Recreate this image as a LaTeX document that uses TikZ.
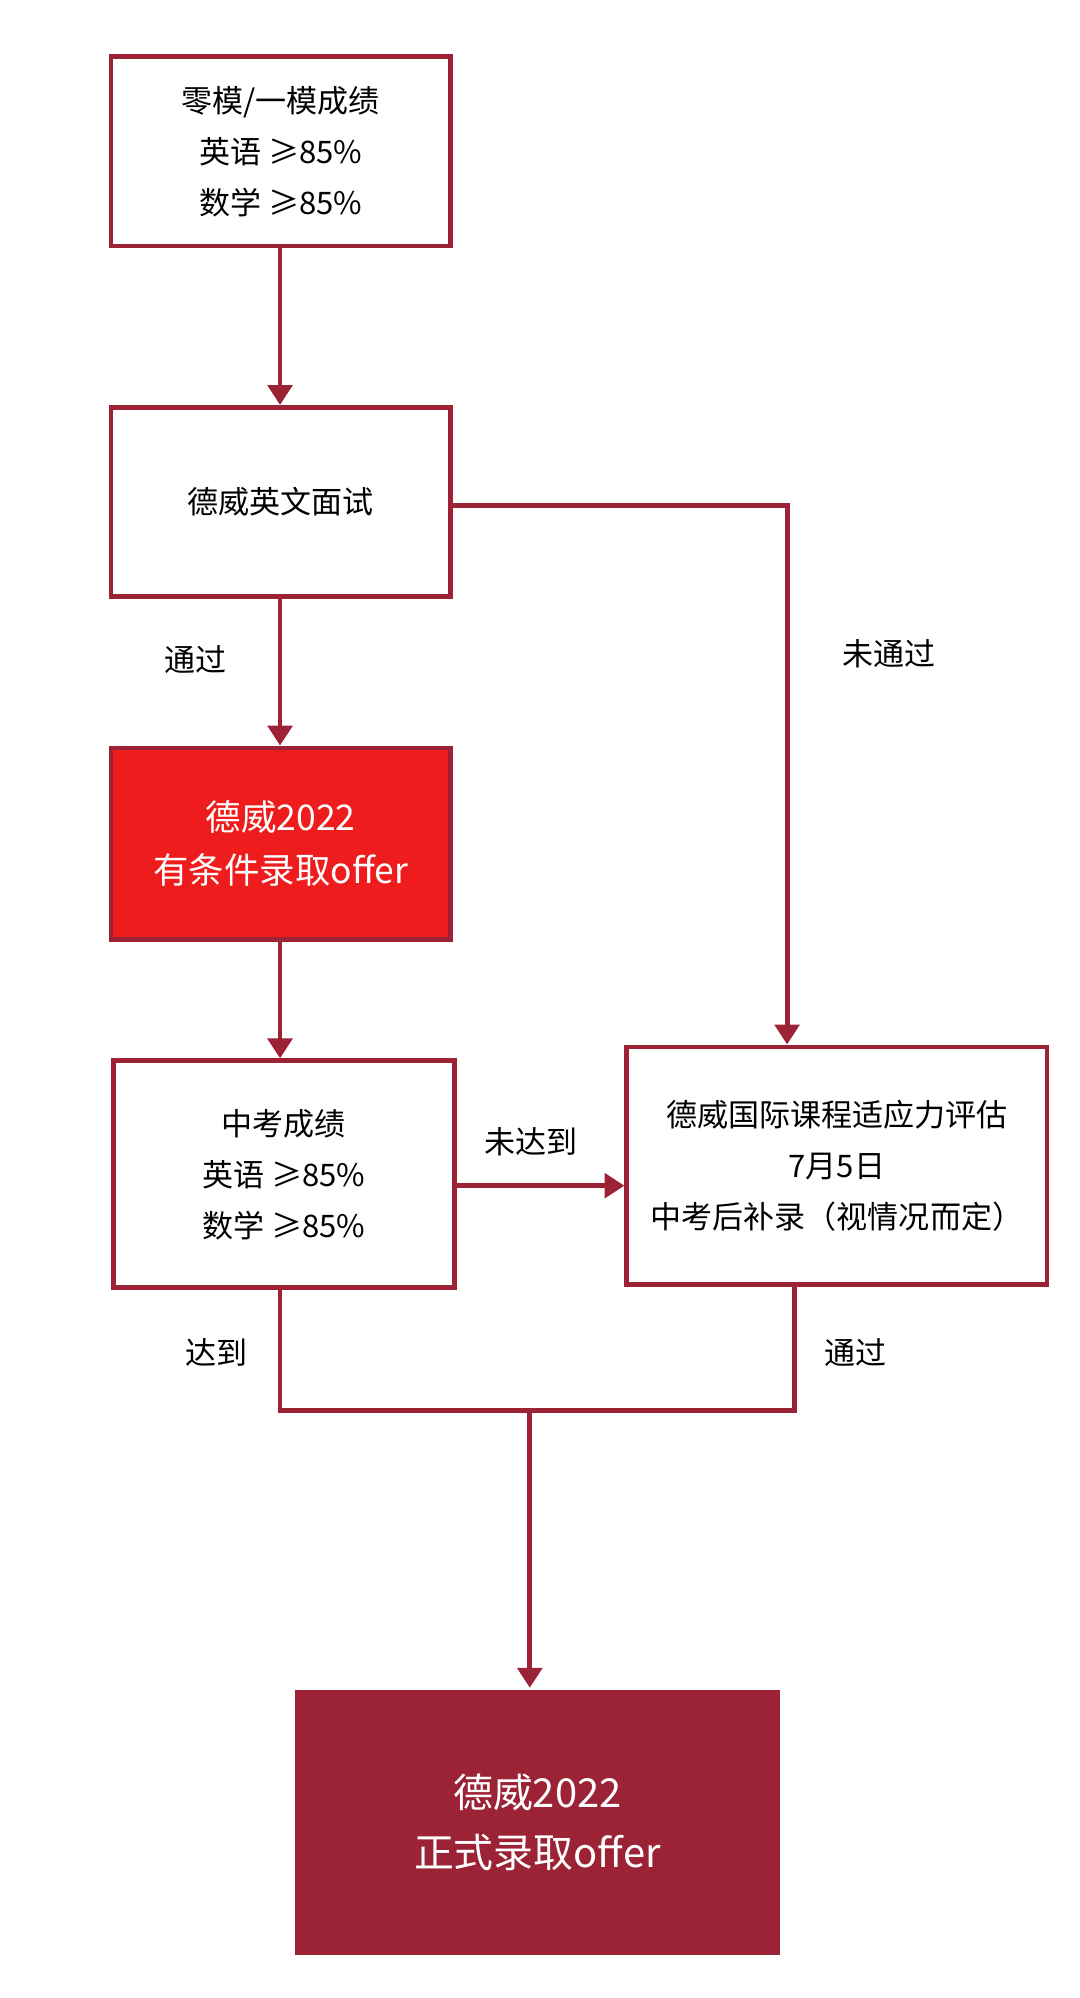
\documentclass[tikz,border=0pt]{standalone}
\usepackage{fontspec}
\setmainfont{Noto Sans CJK SC}
\usetikzlibrary{positioning, arrows.meta}
\definecolor{wine}{HTML}{9B2335}
\definecolor{offerred}{HTML}{EE1C1C}
\tikzset{
  stepbox/.style={draw=wine, line width=2.2pt, align=center, inner sep=0pt, font=\fontsize{14}{23}\selectfont},
  flow/.style={draw=wine, line width=2.2pt, -{Triangle[length=9pt,width=11pt]}},
  link/.style={draw=wine, line width=2.2pt},
  lbl/.style={font=\fontsize{14}{18}\selectfont}
}
\begin{document}
\begin{tikzpicture}[x=0.02cm, y=-0.02cm]
  \useasboundingbox (0,0) rectangle (856,1584);

  \node[stepbox, minimum width=269*0.02cm, minimum height=150*0.02cm] (score) at (222.5,120) {零模/一模成绩\\英语 ≥85\%\\数学 ≥85\%};
  \node[stepbox, minimum width=269*0.02cm, minimum height=150*0.02cm] (interview) at (222.5,398) {德威英文面试};
  \node[stepbox, fill=offerred, text=white, font=\fontsize{16}{24}\selectfont, minimum width=269*0.02cm, minimum height=152*0.02cm] (cond) at (222.5,669) {德威2022\\有条件录取offer};
  \node[stepbox, minimum width=270*0.02cm, minimum height=180*0.02cm] (exam) at (225,931) {中考成绩\\英语 ≥85\%\\数学 ≥85\%};
  \node[stepbox, minimum width=333*0.02cm, minimum height=188*0.02cm] (assess) at (663.5,924) {德威国际课程适应力评估\\7月5日\\中考后补录（视情况而定）};
  \node[stepbox, draw=none, fill=wine, text=white, font=\fontsize{18}{27}\selectfont, minimum width=384*0.02cm, minimum height=210*0.02cm] (final) at (426,1445) {德威2022\\正式录取offer};

  \coordinate (turn) at (624,401);
  \coordinate (joinl) at (222,1118);
  \coordinate (joinr) at (630,1118);
  \coordinate (joinm) at (420,1118);

  \draw[flow] (score.south -| 222,0) -- (interview.north -| 222,0);
  \draw[flow] (interview.south -| 222,0) -- (cond.north -| 222,0);
  \draw[flow] (cond.south -| 222,0) -- (exam.north -| 222,0);
  \draw[flow] (interview.east |- turn) -- (turn) -- (turn |- assess.north);
  \draw[flow] (exam.east |- 0,940) -- (assess.west |- 0,940);
  \draw[link] (exam.south -| joinl) -- (joinl) -- (joinr) -- (assess.south -| joinr);
  \draw[flow] (joinm) -- (final.north -| joinm);

  \node[lbl] (pass1) at (155,523) {通过};
  \node[lbl] (fail1) at (705,518) {未通过};
  \node[lbl] (miss) at (421,905) {未达到};
  \node[lbl] (reach) at (172,1072) {达到};
  \node[lbl] (pass2) at (678,1072) {通过};
\end{tikzpicture}
\end{document}
